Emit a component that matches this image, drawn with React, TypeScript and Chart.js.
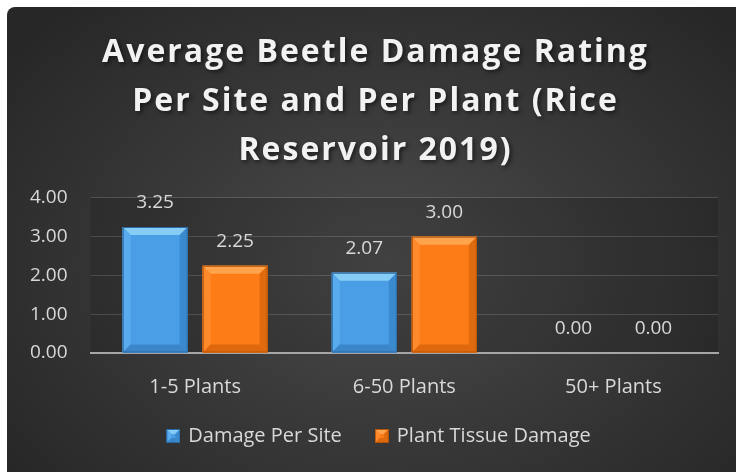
import React, { useEffect, useRef } from "react";
import { Chart, registerables } from "chart.js";

Chart.register(...registerables);

const categories = ["1-5 Plants", "6-50 Plants", "50+ Plants"];
const seriesNames = ["Damage Per Site", "Plant Tissue Damage"];
const damagePerSite = [3.25, 2.07, 0.0];
const plantTissueDamage = [2.25, 3.0, 0.0];
const yTickValues = [0, 1, 2, 3, 4];
const titleLines = ["Average Beetle Damage Rating", "Per Site and Per Plant (Rice", "Reservoir 2019)"];

const FONT = "'Open Sans', 'Noto Sans', sans-serif";

type Pal = { main: string; top: string; left: string; right: string; bottom: string; border: string };
const BLUE: Pal = { main: "#4a9ee6", top: "#86cdf6", left: "#58abec", right: "#3a8ad0", bottom: "#3b85c9", border: "#2b6aa3" };
const ORANGE: Pal = { main: "#fd7c17", top: "#ffa44c", left: "#ff8a2b", right: "#e06a0f", bottom: "#df680e", border: "#b35408" };
const palettes = [BLUE, ORANGE];

function drawBevel(ctx: CanvasRenderingContext2D, left: number, top: number, right: number, bottom: number, pal: Pal, bev: number) {
  const b = Math.max(0, Math.min(bev, (bottom - top) / 2, (right - left) / 2));
  ctx.save();
  ctx.fillStyle = pal.main;
  ctx.fillRect(left, top, right - left, bottom - top);
  const poly = (pts: number[][], c: string) => {
    ctx.beginPath();
    ctx.moveTo(pts[0][0], pts[0][1]);
    for (let i = 1; i < pts.length; i++) ctx.lineTo(pts[i][0], pts[i][1]);
    ctx.closePath();
    ctx.fillStyle = c;
    ctx.fill();
  };
  poly([[left, top], [right, top], [right - b, top + b], [left + b, top + b]], pal.top);
  poly([[left, top], [left + b, top + b], [left + b, bottom - b], [left, bottom]], pal.left);
  poly([[right, top], [right, bottom], [right - b, bottom - b], [right - b, top + b]], pal.right);
  poly([[left, bottom], [left + b, bottom - b], [right - b, bottom - b], [right, bottom]], pal.bottom);
  ctx.strokeStyle = pal.border;
  ctx.lineWidth = 1;
  ctx.strokeRect(left + 0.5, top + 0.5, right - left - 1, bottom - top - 1);
  ctx.restore();
}

function makeIcon(pal: Pal): HTMLCanvasElement {
  const c = document.createElement("canvas");
  c.width = 14;
  c.height = 14;
  const ctx = c.getContext("2d")!;
  drawBevel(ctx, 0, 0, 14, 14, pal, 5);
  return c;
}

const plotBgPlugin = {
  id: "plotBg",
  beforeDraw(chart: any) {
    const { ctx, chartArea } = chart;
    ctx.save();
    ctx.fillStyle = "rgba(0,0,0,0.13)";
    ctx.fillRect(chartArea.left, chartArea.top, chartArea.right - chartArea.left, chartArea.bottom - chartArea.top);
    ctx.restore();
    const tb = chart.titleBlock;
    if (tb && !tb.__wrapped) {
      const orig = tb.draw.bind(tb);
      tb.draw = (...args: any[]) => {
        const c = chart.ctx;
        c.save();
        c.translate(13, 0);
        (c as any).letterSpacing = "2px";
        c.shadowColor = "rgba(0,0,0,0.55)";
        c.shadowBlur = 4;
        c.shadowOffsetX = 2;
        c.shadowOffsetY = 2;
        orig(...args);
        c.restore();
      };
      tb.__wrapped = true;
    }
    const lg = chart.legend;
    if (lg && !lg.__wrapped) {
      const origL = lg.draw.bind(lg);
      lg.draw = (...args: any[]) => {
        const c = chart.ctx;
        c.save();
        c.translate(17, -7);
        origL(...args);
        c.restore();
      };
      lg.__wrapped = true;
    }
  },
};

const bevelPlugin = {
  id: "bevelBars",
  afterDatasetsDraw(chart: any) {
    const { ctx } = chart;
    chart.data.datasets.forEach((_ds: any, di: number) => {
      const meta = chart.getDatasetMeta(di);
      meta.data.forEach((el: any) => {
        const h = el.base - el.y;
        if (h < 1) return;
        const left = el.x - el.width / 2;
        const right = el.x + el.width / 2;
        drawBevel(ctx, left, el.y, right, el.base, palettes[di], 8);
      });
    });
    ctx.save();
    ctx.font = `19px ${FONT}`;
    ctx.fillStyle = "#d9d9d9";
    ctx.textAlign = "center";
    ctx.textBaseline = "middle";
    chart.data.datasets.forEach((ds: any, di: number) => {
      const meta = chart.getDatasetMeta(di);
      meta.data.forEach((el: any, i: number) => {
        const v = ds.data[i] as number;
        ctx.fillText(v.toFixed(2), el.x, el.y - 24);
      });
    });
    ctx.restore();
  },
};

export default function App() {
  const ref = useRef<HTMLCanvasElement | null>(null);
  useEffect(() => {
    if (!ref.current) return;
    const chart = new Chart(ref.current, {
      type: "bar",
      data: {
        labels: categories,
        datasets: [
          {
            label: seriesNames[0],
            data: damagePerSite,
            backgroundColor: BLUE.main,
            borderWidth: 0,
            pointStyle: makeIcon(BLUE) as any,
          },
          {
            label: seriesNames[1],
            data: plantTissueDamage,
            backgroundColor: ORANGE.main,
            borderWidth: 0,
            pointStyle: makeIcon(ORANGE) as any,
          },
        ],
      },
      options: {
        responsive: true,
        maintainAspectRatio: false,
        animation: false,
        datasets: { bar: { categoryPercentage: 0.765, barPercentage: 0.8125 } },
        layout: { padding: { left: 0, right: 18, top: 0, bottom: 9 } },
        plugins: {
          title: {
            display: true,
            text: titleLines,
            color: "#f2f2f2",
            font: { family: FONT, size: 32, weight: "bold", lineHeight: 1.52 },
            padding: { top: 22, bottom: 23 },
          },
          legend: {
            display: true,
            position: "bottom",
            labels: {
              color: "#d9d9d9",
              font: { family: FONT, size: 20 },
              usePointStyle: true,
              boxWidth: 10,
              boxHeight: 14,
              padding: 35,
            },
          },
          tooltip: { enabled: false },
        },
        scales: {
          x: {
            grid: { display: false },
            border: { display: true, color: "#a6a6a6", width: 2 },
            ticks: { color: "#d9d9d9", font: { family: FONT, size: 20 }, padding: 14 },
            afterFit(scale: any) {
              scale.height -= 15;
            },
          },
          y: {
            min: 0,
            max: 4,
            afterBuildTicks(scale: any) {
              scale.ticks = yTickValues.map((v) => ({ value: v }));
            },
            grid: {
              color: (c: any) => (c.tick && c.tick.value === 0 ? "rgba(0,0,0,0)" : "rgba(255,255,255,0.14)"),
              lineWidth: 1,
              drawTicks: false,
            },
            border: { display: false },
            ticks: {
              color: "#d9d9d9",
              font: { family: FONT, size: 19 },
              padding: 23,
              callback: (v: any) => Number(v).toFixed(2),
            },
          },
        },
      },
      plugins: [plotBgPlugin, bevelPlugin],
    });
    return () => chart.destroy();
  }, []);

  return (
    <div
      style={{
        position: "absolute",
        left: 7,
        top: 7,
        width: 729,
        height: 465,
        borderTopLeftRadius: 8,
        overflow: "hidden",
        background: "radial-gradient(ellipse 65% 75% at 52% 55%, #4b4b4b 0%, #3a3a3a 45%, #272727 100%)",
      }}
    >
      <div style={{ position: "relative", width: 729, height: 465 }}>
        <canvas ref={ref} />
      </div>
    </div>
  );
}
